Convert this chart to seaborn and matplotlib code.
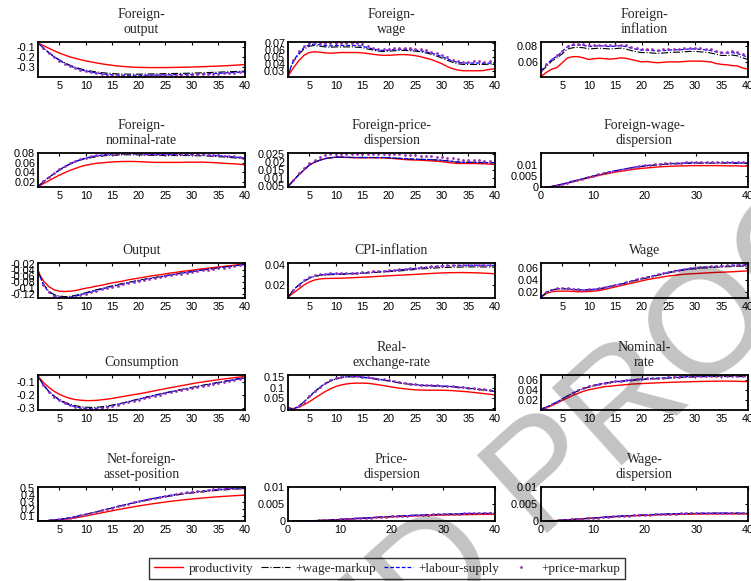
import numpy as np
import matplotlib
matplotlib.use("Agg")
import matplotlib.pyplot as plt
from matplotlib.lines import Line2D
import seaborn as sns

periods = np.arange(1, 41)
series_names = ["productivity", "+wage-markup", "+labour-supply", "+price-markup"]

# ---------------- Foreign-output ----------------
fo_prod = [-0.06,-0.085,-0.11,-0.135,-0.158,-0.178,-0.196,-0.211,-0.224,-0.236,-0.246,-0.256,-0.265,-0.273,-0.28,-0.286,-0.291,-0.295,-0.298,-0.300,-0.301,-0.302,-0.302,-0.302,-0.302,-0.301,-0.300,-0.299,-0.298,-0.297,-0.295,-0.293,-0.291,-0.289,-0.287,-0.285,-0.282,-0.279,-0.276,-0.272]
fo_wm = [-0.06,-0.108,-0.152,-0.19,-0.225,-0.254,-0.278,-0.298,-0.314,-0.327,-0.337,-0.345,-0.352,-0.357,-0.361,-0.364,-0.366,-0.367,-0.367,-0.367,-0.366,-0.365,-0.364,-0.363,-0.362,-0.361,-0.360,-0.359,-0.358,-0.357,-0.355,-0.353,-0.351,-0.349,-0.347,-0.345,-0.343,-0.341,-0.339,-0.336]
fo_ls = [-0.06,-0.11,-0.155,-0.195,-0.23,-0.26,-0.285,-0.305,-0.322,-0.336,-0.347,-0.356,-0.363,-0.369,-0.373,-0.376,-0.378,-0.379,-0.379,-0.379,-0.378,-0.377,-0.376,-0.375,-0.374,-0.373,-0.372,-0.371,-0.370,-0.369,-0.367,-0.365,-0.363,-0.361,-0.359,-0.356,-0.353,-0.350,-0.347,-0.344]
fo_pm = [-0.061,-0.112,-0.158,-0.198,-0.233,-0.263,-0.288,-0.308,-0.325,-0.339,-0.350,-0.359,-0.366,-0.372,-0.376,-0.379,-0.381,-0.382,-0.382,-0.382,-0.381,-0.380,-0.379,-0.378,-0.377,-0.376,-0.375,-0.374,-0.373,-0.372,-0.370,-0.368,-0.366,-0.364,-0.362,-0.359,-0.356,-0.353,-0.350,-0.347]

# ---------------- Foreign-wage ----------------
fw_prod = [0.023,0.035,0.045,0.053,0.057,0.058,0.0575,0.0565,0.056,0.0565,0.057,0.057,0.057,0.057,0.0565,0.0555,0.0545,0.0535,0.053,0.053,0.0535,0.054,0.054,0.0535,0.0525,0.051,0.049,0.047,0.044,0.041,0.037,0.034,0.032,0.031,0.031,0.031,0.031,0.0315,0.033,0.034]
fw_wm = [0.025,0.044,0.054,0.062,0.066,0.067,0.066,0.065,0.0645,0.065,0.065,0.065,0.065,0.0645,0.064,0.062,0.0605,0.059,0.0585,0.059,0.0595,0.06,0.06,0.0595,0.059,0.058,0.0565,0.0545,0.052,0.049,0.046,0.043,0.041,0.040,0.040,0.040,0.040,0.040,0.0405,0.041]
fw_ls = [0.026,0.045,0.056,0.064,0.068,0.069,0.068,0.067,0.0665,0.067,0.067,0.067,0.067,0.067,0.066,0.064,0.062,0.0605,0.06,0.0605,0.061,0.0615,0.0615,0.061,0.0605,0.0595,0.058,0.056,0.054,0.051,0.048,0.045,0.043,0.042,0.042,0.042,0.042,0.0415,0.042,0.0425]
fw_pm = [0.027,0.047,0.059,0.067,0.071,0.0715,0.071,0.0705,0.070,0.070,0.070,0.070,0.070,0.070,0.069,0.0665,0.064,0.0625,0.062,0.0625,0.063,0.0635,0.0635,0.063,0.0625,0.0615,0.060,0.058,0.056,0.0535,0.050,0.047,0.045,0.044,0.044,0.0445,0.0445,0.044,0.0445,0.045]

# ---------------- Foreign-inflation ----------------
fi_prod = [0.042,0.047,0.051,0.053,0.059,0.065,0.0665,0.0665,0.065,0.063,0.064,0.0645,0.064,0.0635,0.064,0.065,0.0645,0.063,0.0615,0.060,0.0605,0.0595,0.059,0.0595,0.060,0.060,0.060,0.0605,0.061,0.061,0.061,0.0605,0.060,0.058,0.057,0.0565,0.0555,0.055,0.0525,0.051]
fi_wm = [0.048,0.054,0.061,0.065,0.070,0.076,0.0775,0.078,0.0775,0.076,0.0765,0.077,0.0765,0.076,0.0765,0.077,0.076,0.074,0.0725,0.0715,0.0715,0.071,0.0705,0.071,0.0715,0.072,0.072,0.0725,0.073,0.073,0.0725,0.072,0.071,0.0695,0.068,0.068,0.0685,0.0675,0.065,0.063]
fi_ls = [0.049,0.056,0.063,0.067,0.073,0.079,0.0805,0.081,0.0805,0.079,0.0795,0.080,0.0795,0.079,0.0795,0.080,0.079,0.077,0.0755,0.0745,0.0745,0.074,0.0735,0.074,0.0745,0.075,0.075,0.0755,0.076,0.076,0.0755,0.075,0.074,0.0725,0.071,0.071,0.0715,0.0705,0.068,0.066]
fi_pm = [0.050,0.057,0.064,0.068,0.074,0.080,0.082,0.0825,0.082,0.0805,0.081,0.0815,0.081,0.0805,0.081,0.0815,0.0805,0.0785,0.077,0.076,0.076,0.0755,0.075,0.0755,0.076,0.0765,0.0765,0.077,0.0775,0.0775,0.077,0.0765,0.0755,0.074,0.0725,0.0725,0.073,0.072,0.0695,0.0675]

# ---------------- Foreign-nominal-rate ----------------
fn_prod = [0.010,0.016,0.022,0.028,0.034,0.039,0.044,0.048,0.052,0.055,0.057,0.059,0.060,0.061,0.062,0.0625,0.063,0.063,0.063,0.0625,0.062,0.0615,0.061,0.061,0.061,0.061,0.061,0.061,0.0615,0.0615,0.0615,0.0615,0.061,0.0605,0.060,0.059,0.0585,0.058,0.057,0.056]
fn_wm = [0.010,0.020,0.029,0.037,0.044,0.051,0.057,0.062,0.066,0.069,0.071,0.073,0.0745,0.0755,0.076,0.0765,0.077,0.077,0.077,0.077,0.0765,0.076,0.076,0.0755,0.0755,0.0755,0.0755,0.0755,0.0755,0.0755,0.075,0.075,0.0745,0.074,0.073,0.0725,0.0715,0.0705,0.0695,0.068]
fn_ls = [0.010,0.020,0.029,0.037,0.045,0.052,0.058,0.063,0.067,0.070,0.073,0.075,0.0765,0.0775,0.078,0.0785,0.079,0.079,0.079,0.079,0.0785,0.078,0.078,0.0775,0.0775,0.0775,0.0775,0.0775,0.0775,0.0775,0.077,0.077,0.0765,0.076,0.075,0.0745,0.0735,0.0725,0.0715,0.070]
fn_pm = [0.011,0.021,0.030,0.038,0.046,0.053,0.059,0.064,0.068,0.071,0.074,0.076,0.0775,0.0785,0.079,0.0795,0.080,0.080,0.080,0.080,0.0795,0.079,0.079,0.0785,0.0785,0.0785,0.0785,0.0785,0.0785,0.0785,0.078,0.078,0.0775,0.077,0.076,0.0755,0.0745,0.0735,0.0725,0.071]

# ---------------- Foreign-price-dispersion ----------------
fpd_prod = [0.005,0.0085,0.012,0.015,0.018,0.0198,0.021,0.022,0.0225,0.0228,0.0228,0.0227,0.0226,0.0225,0.0225,0.0225,0.0225,0.0225,0.0224,0.0223,0.022,0.0217,0.0214,0.0212,0.0211,0.021,0.0208,0.0206,0.0204,0.0201,0.0197,0.0193,0.019,0.019,0.019,0.019,0.0189,0.0188,0.0186,0.0184]
fpd_wm = [0.005,0.0085,0.012,0.015,0.018,0.0198,0.021,0.022,0.0225,0.0229,0.0229,0.0228,0.0227,0.0226,0.0226,0.0226,0.0226,0.0226,0.0226,0.0225,0.0223,0.0221,0.0219,0.0217,0.0216,0.0215,0.0214,0.0213,0.0211,0.0209,0.0206,0.0202,0.0198,0.0197,0.0197,0.0197,0.0196,0.0195,0.0194,0.0194]
fpd_ls = [0.005,0.0085,0.012,0.015,0.018,0.0198,0.021,0.022,0.0225,0.0229,0.0229,0.0228,0.0227,0.0227,0.0227,0.0227,0.0227,0.0227,0.0227,0.0226,0.0224,0.0222,0.022,0.0218,0.0217,0.0216,0.0215,0.0214,0.0212,0.021,0.0207,0.0203,0.0199,0.0198,0.0198,0.0198,0.0197,0.0196,0.0195,0.0195]
fpd_pm = [0.005,0.009,0.013,0.016,0.019,0.021,0.0228,0.024,0.0248,0.025,0.025,0.025,0.025,0.025,0.025,0.025,0.025,0.025,0.025,0.0249,0.0247,0.0245,0.0243,0.0241,0.024,0.0238,0.0236,0.0234,0.0232,0.023,0.0226,0.0221,0.0215,0.0212,0.0211,0.021,0.0209,0.0208,0.0207,0.0206]

# ---------------- Foreign-wage-dispersion ----------------
fwd_prod = [0,0.0003,0.0007,0.0012,0.0017,0.0023,0.0029,0.0035,0.004,0.0046,0.0051,0.0056,0.006,0.0065,0.0069,0.0072,0.0076,0.0079,0.0082,0.0084,0.0086,0.0088,0.009,0.0091,0.0092,0.0093,0.0094,0.0094,0.0095,0.0095,0.0095,0.0095,0.0095,0.0095,0.0095,0.0094,0.0094,0.0094,0.0093,0.0093]
fwd_wm = [0,0.0003,0.0008,0.0013,0.0019,0.0025,0.0031,0.0037,0.0043,0.0049,0.0054,0.0059,0.0065,0.007,0.0075,0.0079,0.0083,0.0087,0.009,0.0093,0.0095,0.0097,0.0099,0.0101,0.0102,0.0103,0.0104,0.0105,0.0105,0.0106,0.0106,0.0106,0.0106,0.0106,0.0106,0.0106,0.0106,0.0105,0.0105,0.0105]
fwd_ls = [0,0.0003,0.0008,0.0013,0.0019,0.0025,0.0031,0.0037,0.0043,0.0049,0.0055,0.006,0.0066,0.0071,0.0076,0.008,0.0084,0.0088,0.0091,0.0094,0.0097,0.0099,0.0101,0.0103,0.0104,0.0105,0.0106,0.0107,0.0107,0.0108,0.0108,0.0108,0.0108,0.0108,0.0108,0.0108,0.0108,0.0107,0.0107,0.0107]
fwd_pm = [0,0.0003,0.0008,0.0014,0.002,0.0026,0.0032,0.0038,0.0044,0.005,0.0056,0.0062,0.0067,0.0072,0.0077,0.0082,0.0086,0.009,0.0093,0.0096,0.0099,0.0101,0.0103,0.0105,0.0106,0.0107,0.0108,0.0109,0.011,0.011,0.011,0.011,0.011,0.011,0.011,0.011,0.011,0.011,0.0109,0.0109]

# ---------------- Output ----------------
out_prod = [-0.044,-0.075,-0.094,-0.105,-0.110,-0.111,-0.110,-0.108,-0.104,-0.100,-0.097,-0.093,-0.090,-0.086,-0.082,-0.079,-0.076,-0.072,-0.069,-0.066,-0.063,-0.060,-0.057,-0.055,-0.052,-0.049,-0.047,-0.044,-0.042,-0.040,-0.037,-0.035,-0.033,-0.031,-0.029,-0.027,-0.025,-0.023,-0.021,-0.019]
out_wm = [-0.044,-0.086,-0.109,-0.121,-0.126,-0.128,-0.127,-0.124,-0.120,-0.115,-0.110,-0.105,-0.101,-0.096,-0.092,-0.088,-0.084,-0.080,-0.077,-0.073,-0.070,-0.067,-0.064,-0.061,-0.058,-0.055,-0.052,-0.049,-0.047,-0.044,-0.041,-0.039,-0.036,-0.034,-0.032,-0.029,-0.027,-0.025,-0.023,-0.021]
out_ls = [-0.044,-0.088,-0.112,-0.124,-0.129,-0.131,-0.130,-0.127,-0.122,-0.117,-0.112,-0.107,-0.103,-0.098,-0.094,-0.090,-0.086,-0.082,-0.078,-0.075,-0.071,-0.068,-0.065,-0.062,-0.059,-0.056,-0.053,-0.050,-0.047,-0.045,-0.042,-0.039,-0.037,-0.035,-0.032,-0.030,-0.028,-0.025,-0.023,-0.021]
out_pm = [-0.045,-0.089,-0.113,-0.125,-0.130,-0.132,-0.131,-0.128,-0.123,-0.118,-0.113,-0.108,-0.104,-0.099,-0.095,-0.091,-0.087,-0.083,-0.079,-0.076,-0.072,-0.069,-0.066,-0.063,-0.060,-0.057,-0.054,-0.051,-0.048,-0.046,-0.043,-0.040,-0.038,-0.036,-0.033,-0.031,-0.028,-0.026,-0.024,-0.021]

# ---------------- CPI-inflation ----------------
cpi_prod = [0.008,0.012,0.016,0.020,0.023,0.025,0.026,0.0265,0.0266,0.0267,0.0268,0.027,0.0272,0.0275,0.0278,0.028,0.0283,0.0286,0.0289,0.0292,0.0295,0.0298,0.030,0.0303,0.0306,0.0309,0.0312,0.0315,0.0318,0.032,0.0322,0.0323,0.0324,0.0324,0.0323,0.0322,0.032,0.0318,0.0315,0.0312]
cpi_wm = [0.008,0.015,0.020,0.0235,0.0265,0.0285,0.0295,0.030,0.0303,0.0305,0.0306,0.0308,0.031,0.0313,0.0316,0.032,0.0323,0.0327,0.033,0.0333,0.0337,0.034,0.0345,0.035,0.0355,0.036,0.0363,0.0367,0.037,0.0373,0.0375,0.0377,0.0378,0.0379,0.038,0.038,0.038,0.038,0.0379,0.0378]
cpi_ls = [0.008,0.015,0.020,0.024,0.027,0.029,0.030,0.0305,0.031,0.031,0.031,0.0312,0.0315,0.0318,0.032,0.0325,0.033,0.0333,0.0337,0.034,0.0345,0.035,0.0355,0.036,0.0365,0.037,0.0375,0.038,0.0385,0.0388,0.039,0.0393,0.0395,0.0396,0.0397,0.0397,0.0397,0.0397,0.0396,0.0395]
cpi_pm = [0.0085,0.0155,0.0205,0.0245,0.0275,0.0295,0.0305,0.031,0.0315,0.0315,0.0316,0.0318,0.032,0.0323,0.0326,0.033,0.0335,0.0338,0.0342,0.0346,0.035,0.0355,0.036,0.0365,0.037,0.0375,0.038,0.0385,0.039,0.0393,0.0395,0.0398,0.04,0.0401,0.0402,0.0402,0.0402,0.0402,0.0401,0.04]

# ---------------- Wage ----------------
wag_prod = [0.012,0.018,0.021,0.022,0.022,0.022,0.0215,0.021,0.021,0.0215,0.022,0.023,0.025,0.027,0.029,0.031,0.033,0.035,0.037,0.039,0.041,0.0425,0.044,0.0455,0.047,0.048,0.049,0.050,0.0505,0.051,0.0515,0.052,0.0525,0.053,0.0533,0.0536,0.054,0.0545,0.055,0.0555]
wag_wm = [0.012,0.020,0.024,0.0255,0.026,0.0255,0.0245,0.024,0.0238,0.024,0.0245,0.0255,0.0275,0.0295,0.0315,0.0335,0.0355,0.038,0.040,0.042,0.044,0.046,0.048,0.050,0.052,0.054,0.0555,0.057,0.058,0.059,0.0598,0.0605,0.061,0.0615,0.062,0.0623,0.0626,0.063,0.0633,0.0636]
wag_ls = [0.012,0.020,0.024,0.026,0.0265,0.026,0.025,0.0245,0.024,0.0245,0.025,0.026,0.028,0.030,0.032,0.034,0.036,0.0385,0.041,0.043,0.045,0.047,0.049,0.051,0.053,0.055,0.0565,0.058,0.059,0.060,0.061,0.0618,0.0625,0.063,0.0635,0.064,0.0645,0.065,0.0655,0.066]
wag_pm = [0.0125,0.0205,0.0245,0.0265,0.027,0.0265,0.0255,0.025,0.0245,0.025,0.0255,0.0265,0.0285,0.0305,0.0325,0.0345,0.0365,0.039,0.0415,0.0435,0.0455,0.0475,0.0495,0.0515,0.0535,0.0555,0.057,0.0585,0.0595,0.0605,0.0615,0.0623,0.063,0.0635,0.064,0.0645,0.065,0.0655,0.066,0.0665]

# ---------------- Consumption ----------------
con_prod = [-0.058,-0.105,-0.142,-0.172,-0.195,-0.213,-0.227,-0.236,-0.241,-0.244,-0.244,-0.242,-0.238,-0.233,-0.227,-0.220,-0.213,-0.206,-0.199,-0.192,-0.185,-0.177,-0.169,-0.161,-0.153,-0.145,-0.138,-0.130,-0.123,-0.115,-0.108,-0.102,-0.096,-0.090,-0.084,-0.079,-0.074,-0.069,-0.064,-0.059]
con_wm = [-0.060,-0.122,-0.171,-0.207,-0.234,-0.255,-0.271,-0.282,-0.290,-0.294,-0.296,-0.295,-0.291,-0.285,-0.278,-0.270,-0.261,-0.251,-0.241,-0.231,-0.221,-0.211,-0.202,-0.193,-0.184,-0.175,-0.167,-0.159,-0.151,-0.143,-0.135,-0.127,-0.119,-0.112,-0.104,-0.097,-0.090,-0.082,-0.075,-0.068]
con_ls = [-0.060,-0.125,-0.175,-0.212,-0.240,-0.262,-0.279,-0.291,-0.299,-0.303,-0.305,-0.303,-0.298,-0.291,-0.283,-0.274,-0.264,-0.254,-0.244,-0.234,-0.224,-0.214,-0.205,-0.196,-0.187,-0.178,-0.170,-0.162,-0.154,-0.146,-0.138,-0.130,-0.122,-0.115,-0.107,-0.099,-0.092,-0.084,-0.077,-0.070]
con_pm = [-0.061,-0.127,-0.177,-0.214,-0.242,-0.264,-0.281,-0.293,-0.301,-0.305,-0.307,-0.305,-0.300,-0.293,-0.285,-0.276,-0.266,-0.256,-0.246,-0.236,-0.226,-0.216,-0.207,-0.198,-0.189,-0.180,-0.172,-0.164,-0.156,-0.148,-0.140,-0.132,-0.124,-0.116,-0.109,-0.101,-0.093,-0.086,-0.078,-0.071]

# ---------------- Real-exchange-rate ----------------
rer_prod = [0,-0.004,0.004,0.015,0.030,0.047,0.064,0.080,0.094,0.105,0.113,0.118,0.121,0.122,0.122,0.121,0.118,0.114,0.110,0.105,0.101,0.097,0.094,0.091,0.089,0.088,0.087,0.087,0.087,0.087,0.086,0.085,0.083,0.081,0.079,0.076,0.073,0.070,0.067,0.064]
rer_wm = [0,-0.006,0.008,0.029,0.054,0.078,0.100,0.118,0.132,0.142,0.149,0.152,0.153,0.152,0.150,0.147,0.144,0.140,0.136,0.132,0.128,0.123,0.119,0.116,0.113,0.111,0.109,0.108,0.107,0.106,0.105,0.103,0.101,0.099,0.096,0.093,0.090,0.087,0.084,0.081]
rer_ls = [0,-0.006,0.008,0.030,0.055,0.080,0.102,0.120,0.134,0.144,0.151,0.154,0.155,0.154,0.152,0.149,0.146,0.142,0.138,0.134,0.130,0.125,0.121,0.118,0.115,0.113,0.111,0.110,0.109,0.108,0.107,0.105,0.103,0.101,0.098,0.095,0.092,0.089,0.086,0.083]
rer_pm = [0.001,-0.005,0.009,0.031,0.057,0.082,0.104,0.122,0.136,0.146,0.153,0.156,0.157,0.156,0.154,0.151,0.148,0.144,0.140,0.136,0.132,0.127,0.123,0.120,0.117,0.115,0.113,0.112,0.111,0.110,0.109,0.107,0.105,0.103,0.100,0.097,0.094,0.091,0.088,0.085]

# ---------------- Nominal-rate ----------------
nom_prod = [0.003,0.006,0.010,0.015,0.020,0.025,0.030,0.034,0.038,0.041,0.043,0.045,0.047,0.048,0.049,0.050,0.051,0.052,0.0525,0.053,0.0535,0.054,0.0545,0.055,0.0553,0.0556,0.056,0.0563,0.0566,0.057,0.0572,0.0574,0.0576,0.0577,0.0578,0.0578,0.0577,0.0575,0.0572,0.0568]
nom_wm = [0.003,0.007,0.012,0.017,0.023,0.029,0.034,0.039,0.043,0.046,0.049,0.051,0.053,0.055,0.056,0.057,0.058,0.059,0.060,0.061,0.0615,0.062,0.0626,0.0632,0.0638,0.0643,0.0648,0.0652,0.0656,0.066,0.0663,0.0665,0.0667,0.0668,0.0668,0.0668,0.0668,0.0667,0.0666,0.0665]
nom_ls = [0.003,0.007,0.012,0.017,0.023,0.029,0.035,0.040,0.044,0.047,0.050,0.052,0.054,0.056,0.057,0.058,0.059,0.060,0.061,0.062,0.0625,0.063,0.0637,0.0643,0.065,0.0655,0.066,0.0665,0.067,0.0673,0.0676,0.0678,0.068,0.068,0.068,0.068,0.068,0.068,0.068,0.0678]
nom_pm = [0.0035,0.0075,0.0125,0.0175,0.0235,0.0295,0.0355,0.0405,0.0445,0.0475,0.0505,0.0525,0.0545,0.0565,0.0575,0.0585,0.0595,0.0605,0.0615,0.0625,0.063,0.0635,0.0642,0.0648,0.0655,0.066,0.0665,0.067,0.0675,0.0678,0.0681,0.0683,0.0685,0.0686,0.0686,0.0686,0.0686,0.0686,0.0685,0.0684]

# ---------------- Net-foreign-asset-position ----------------
nfa_prod = [0.03,0.032,0.035,0.040,0.046,0.054,0.064,0.076,0.089,0.103,0.118,0.133,0.148,0.163,0.178,0.193,0.207,0.221,0.234,0.247,0.259,0.271,0.282,0.293,0.303,0.313,0.322,0.331,0.339,0.347,0.354,0.361,0.367,0.373,0.379,0.384,0.389,0.394,0.398,0.402]
nfa_wm = [0.03,0.033,0.038,0.045,0.054,0.065,0.078,0.093,0.109,0.126,0.144,0.162,0.180,0.199,0.218,0.236,0.254,0.272,0.289,0.306,0.322,0.337,0.352,0.366,0.379,0.391,0.403,0.414,0.424,0.433,0.442,0.450,0.458,0.465,0.471,0.477,0.482,0.487,0.491,0.495]
nfa_ls = [0.03,0.033,0.038,0.045,0.054,0.065,0.078,0.093,0.109,0.126,0.144,0.163,0.182,0.201,0.220,0.239,0.258,0.276,0.294,0.311,0.328,0.344,0.359,0.373,0.387,0.400,0.412,0.423,0.434,0.444,0.453,0.462,0.470,0.477,0.484,0.490,0.496,0.501,0.506,0.510]
nfa_pm = [0.031,0.034,0.039,0.046,0.055,0.066,0.079,0.094,0.111,0.128,0.146,0.165,0.184,0.204,0.223,0.242,0.261,0.280,0.298,0.315,0.332,0.348,0.363,0.378,0.392,0.405,0.417,0.429,0.440,0.450,0.459,0.468,0.476,0.484,0.491,0.497,0.503,0.508,0.513,0.518]

# ---------------- Price-dispersion ----------------
pd_prod = [0,0.00002,0.00005,0.0001,0.00015,0.0002,0.00027,0.00034,0.00041,0.00048,0.00056,0.00064,0.00072,0.0008,0.00088,0.00096,0.00104,0.00112,0.00119,0.00126,0.00133,0.00139,0.00145,0.00151,0.00156,0.00161,0.00166,0.0017,0.00174,0.00178,0.00182,0.00185,0.00188,0.0019,0.00192,0.00194,0.00196,0.00197,0.00198,0.00199]
pd_wm = [0,0.00002,0.00005,0.0001,0.00015,0.00021,0.00028,0.00035,0.00043,0.00051,0.0006,0.00068,0.00077,0.00086,0.00095,0.00104,0.00113,0.00121,0.00129,0.00137,0.00145,0.00152,0.00159,0.00166,0.00172,0.00178,0.00184,0.00189,0.00194,0.00199,0.00203,0.00207,0.00211,0.00214,0.00217,0.0022,0.00222,0.00224,0.00226,0.00228]
pd_ls = [0,0.00002,0.00005,0.0001,0.00015,0.00021,0.00028,0.00035,0.00043,0.00051,0.0006,0.00069,0.00078,0.00087,0.00096,0.00105,0.00114,0.00123,0.00131,0.00139,0.00147,0.00155,0.00162,0.00169,0.00176,0.00182,0.00188,0.00194,0.00199,0.00204,0.00209,0.00213,0.00217,0.00221,0.00224,0.00227,0.0023,0.00232,0.00234,0.00236]
pd_pm = [0,0.00002,0.00005,0.0001,0.00016,0.00022,0.00029,0.00036,0.00044,0.00052,0.00061,0.0007,0.00079,0.00088,0.00097,0.00106,0.00115,0.00124,0.00133,0.00141,0.00149,0.00157,0.00165,0.00172,0.00179,0.00186,0.00192,0.00198,0.00203,0.00208,0.00213,0.00217,0.00221,0.00225,0.00228,0.00231,0.00234,0.00236,0.00238,0.0024]

# ---------------- Wage-dispersion ----------------
wd_prod = [0,0.0001,0.0002,0.0003,0.0004,0.0005,0.0006,0.0007,0.0008,0.0009,0.001,0.0011,0.0012,0.00128,0.00136,0.00144,0.00151,0.00158,0.00164,0.0017,0.00176,0.00181,0.00186,0.0019,0.00194,0.00197,0.002,0.00203,0.00205,0.00207,0.00209,0.0021,0.00211,0.00212,0.00212,0.00212,0.00212,0.00212,0.00211,0.0021]
wd_wm = [0,0.0001,0.0002,0.0003,0.0004,0.0005,0.0006,0.00071,0.00082,0.00093,0.00103,0.00113,0.00123,0.00132,0.00141,0.0015,0.00158,0.00166,0.00173,0.0018,0.00187,0.00193,0.00199,0.00204,0.00209,0.00213,0.00217,0.0022,0.00223,0.00225,0.00227,0.00229,0.0023,0.00231,0.00232,0.00232,0.00232,0.00232,0.00231,0.0023]
wd_ls = [0,0.0001,0.0002,0.0003,0.0004,0.0005,0.0006,0.00071,0.00082,0.00093,0.00104,0.00115,0.00125,0.00135,0.00144,0.00153,0.00161,0.00169,0.00177,0.00184,0.00191,0.00197,0.00203,0.00208,0.00213,0.00217,0.00221,0.00224,0.00227,0.00229,0.00231,0.00233,0.00234,0.00235,0.00236,0.00236,0.00236,0.00236,0.00235,0.00234]
wd_pm = [0,0.0001,0.0002,0.0003,0.0004,0.0005,0.00061,0.00072,0.00083,0.00094,0.00105,0.00116,0.00127,0.00137,0.00147,0.00156,0.00164,0.00172,0.0018,0.00187,0.00194,0.002,0.00206,0.00211,0.00216,0.0022,0.00224,0.00227,0.0023,0.00232,0.00234,0.00236,0.00237,0.00238,0.00239,0.00239,0.00239,0.00239,0.00238,0.00237]

titles = ["Foreign-\noutput", "Foreign-\nwage", "Foreign-\ninflation",
          "Foreign-\nnominal-rate", "Foreign-price-\ndispersion", "Foreign-wage-\ndispersion",
          "Output", "CPI-inflation", "Wage",
          "Consumption", "Real-\nexchange-rate", "Nominal-\nrate",
          "Net-foreign-\nasset-position", "Price-\ndispersion", "Wage-\ndispersion"]

panel_series = [
    (fo_prod, fo_wm, fo_ls, fo_pm), (fw_prod, fw_wm, fw_ls, fw_pm), (fi_prod, fi_wm, fi_ls, fi_pm),
    (fn_prod, fn_wm, fn_ls, fn_pm), (fpd_prod, fpd_wm, fpd_ls, fpd_pm), (fwd_prod, fwd_wm, fwd_ls, fwd_pm),
    (out_prod, out_wm, out_ls, out_pm), (cpi_prod, cpi_wm, cpi_ls, cpi_pm), (wag_prod, wag_wm, wag_ls, wag_pm),
    (con_prod, con_wm, con_ls, con_pm), (rer_prod, rer_wm, rer_ls, rer_pm), (nom_prod, nom_wm, nom_ls, nom_pm),
    (nfa_prod, nfa_wm, nfa_ls, nfa_pm), (pd_prod, pd_wm, pd_ls, pd_pm), (wd_prod, wd_wm, wd_ls, wd_pm),
]

yticks = [
    [-0.3, -0.2, -0.1], [0.03, 0.04, 0.05, 0.06, 0.07], [0.06, 0.08],
    [0.02, 0.04, 0.06, 0.08], [0.005, 0.01, 0.015, 0.02, 0.025], [0, 0.005, 0.01],
    [-0.12, -0.1, -0.08, -0.06, -0.04, -0.02], [0.02, 0.04], [0.02, 0.04, 0.06],
    [-0.3, -0.2, -0.1], [0, 0.05, 0.1, 0.15], [0.02, 0.04, 0.06],
    [0.1, 0.2, 0.3, 0.4, 0.5], [0, 0.005, 0.01], [0, 0.005, 0.01],
]
ytick_labels = [
    ["-0.3", "-0.2", "-0.1"], ["0.03", "0.04", "0.05", "0.06", "0.07"], ["0.06", "0.08"],
    ["0.02", "0.04", "0.06", "0.08"], ["0.005", "0.01", "0.015", "0.02", "0.025"], ["0", "0.005", "0.01"],
    ["-0.12", "-0.1", "-0.08", "-0.06", "-0.04", "-0.02"], ["0.02", "0.04"], ["0.02", "0.04", "0.06"],
    ["-0.3", "-0.2", "-0.1"], ["0", "0.05", "0.1", "0.15"], ["0.02", "0.04", "0.06"],
    ["0.1", "0.2", "0.3", "0.4", "0.5"], ["0", "0.005", "0.01"], ["0", "0.005", "0.01"],
]
xticks_a = [5, 10, 15, 20, 25, 30, 35, 40]
xticks_b = [0, 10, 20, 30, 40]

# ---------------- layout / style (not data) ----------------
ylims = [
    (-0.39, -0.05), (0.0228, 0.072), (0.042, 0.0846),
    (0.0085, 0.0815), (0.0045, 0.0256), (0, 0.0152),
    (-0.132, -0.0167), (0.0073, 0.0416), (0.011, 0.068),
    (-0.312, -0.0485), (-0.008, 0.162), (0.0024, 0.0698),
    (0.0275, 0.523), (0, 0.01), (0, 0.01),
]
zero_start = {5, 13, 14}

sns.set_style("white")
plt.rcParams["font.family"] = ["Liberation Sans", "DejaVu Sans"]

W, H = 751, 581
fig = plt.figure(figsize=(W / 100, H / 100), dpi=100)

col_left = [38, 288, 541]
row_top = [42, 152.7, 263.3, 375, 486.7]
ax_w, ax_h = 207, 34.5

styles = [
    dict(color="#ff0000", linestyle="-", linewidth=1.0),
    dict(color="black", linestyle="-.", linewidth=0.8),
    dict(color="#0000ff", linestyle=(0, (3, 1.6)), linewidth=0.9),
]
pm_color = "#9b30b0"

for i in range(15):
    r, c = divmod(i, 3)
    l, t = col_left[c], row_top[r]
    ax = fig.add_axes([l / W, 1 - (t + ax_h) / H, ax_w / W, ax_h / H])
    prod, wm, ls, pm = panel_series[i]
    for vals, st in zip((prod, wm, ls), styles):
        sns.lineplot(x=periods, y=vals, ax=ax, **st)
    sns.lineplot(x=periods, y=pm, ax=ax, color=pm_color, linestyle="", marker=".",
                 markersize=4, markeredgewidth=0)
    if i in zero_start:
        ax.set_xlim(0, 40)
        ax.set_xticks(xticks_b)
    else:
        ax.set_xlim(1, 40)
        ax.set_xticks(xticks_a)
    ax.set_ylim(*ylims[i])
    ax.set_yticks(yticks[i])
    ax.set_yticklabels(ytick_labels[i])
    ax.set_xlabel("")
    ax.set_ylabel("")
    ax.tick_params(direction="in", top=True, right=True, length=2.5, width=0.8,
                   labelsize=7.8, pad=2, colors="black")
    ax.tick_params(axis="x", pad=3)
    for sp in ax.spines.values():
        sp.set_visible(True)
        sp.set_color("black")
        sp.set_linewidth(1.3)
    ax.set_title(titles[i], fontsize=10, family=["Liberation Serif"], linespacing=1.15, pad=6.5)

handles = [
    Line2D([], [], **styles[0]),
    Line2D([], [], **styles[1]),
    Line2D([], [], **styles[2]),
    Line2D([], [], color=pm_color, linestyle="", marker=".", markersize=4, markeredgewidth=0),
]
leg = fig.legend(handles, series_names, loc="upper center", ncol=4,
                 bbox_to_anchor=(387 / W, 1 - 557.7 / H), frameon=True, fancybox=False,
                 edgecolor="black", prop={"family": "Liberation Serif", "size": 9.5},
                 handlelength=2.2, handletextpad=0.4, columnspacing=0.6,
                 borderpad=0.35, borderaxespad=0)
leg.get_frame().set_linewidth(1.0)

# watermark
wm_kw = dict(fontsize=110, family="Liberation Sans", color=(0, 0, 0, 0.24),
             rotation=42, rotation_mode="anchor", va="baseline", zorder=10)
fig.text(535 / W, 1 - 533 / H, "PROOF", ha="left", **wm_kw)
fig.text(504 / W, 1 - 561 / H, "UNCORRECTED", ha="right", **wm_kw)

fig.savefig("out.png", dpi=100)
